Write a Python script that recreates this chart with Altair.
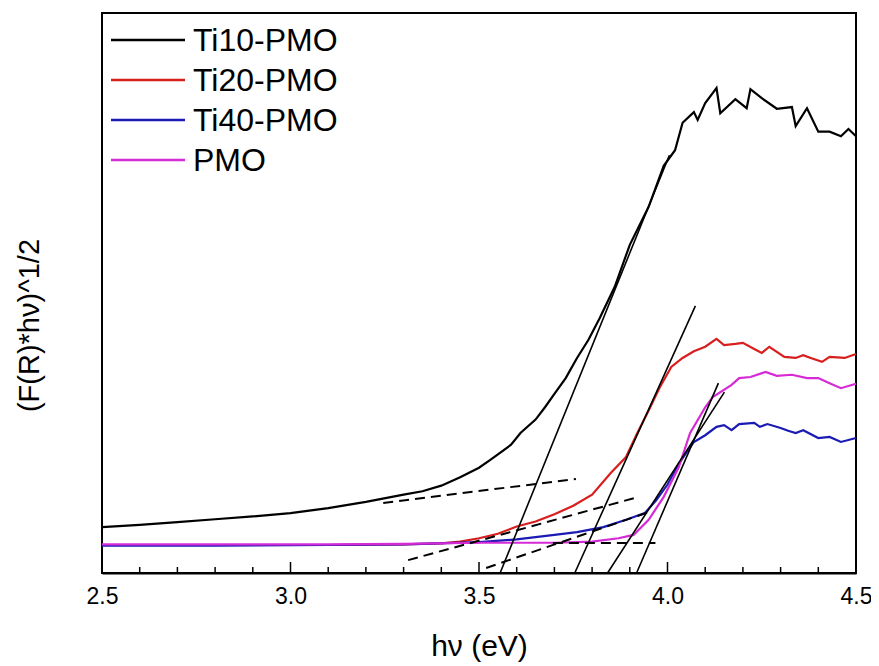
import altair as alt
import pandas as pd

# ---- series data ----
ti10_x = [2.50, 2.60, 2.70, 2.80, 2.90, 3.00, 3.10, 3.20, 3.30, 3.35, 3.40, 3.45, 3.50, 3.53,
          3.585, 3.61, 3.65, 3.675, 3.70, 3.73, 3.76, 3.79, 3.82, 3.86, 3.90, 3.95, 3.99, 4.02,
          4.04, 4.07, 4.08, 4.10, 4.13, 4.14, 4.18, 4.21, 4.22, 4.25, 4.29, 4.33, 4.34, 4.37,
          4.40, 4.43, 4.46, 4.48, 4.50]
ti10_y = [8.2, 8.6, 9.1, 9.6, 10.1, 10.7, 11.6, 12.7, 14.0, 14.6, 15.6, 17.1, 18.8, 20.2,
          22.9, 25.0, 27.4, 29.6, 32.0, 34.8, 38.4, 41.6, 45.5, 51.1, 58.6, 65.4, 72.7, 75.5,
          80.4, 82.3, 80.9, 83.9, 86.6, 82.1, 84.6, 83.0, 86.4, 84.8, 82.9, 83.2, 79.8, 83.0,
          78.8, 78.8, 78.0, 79.3, 78.0]

ti20_x = [2.50, 2.70, 2.90, 3.10, 3.30, 3.40, 3.45, 3.50, 3.55, 3.60, 3.65, 3.70, 3.75, 3.80,
          3.85, 3.89, 3.92, 3.95, 3.98, 4.01, 4.04, 4.07, 4.10, 4.13, 4.15, 4.18, 4.20, 4.23,
          4.25, 4.27, 4.31, 4.34, 4.36, 4.38, 4.41, 4.43, 4.47, 4.50]
ti20_y = [5.0, 5.0, 5.0, 5.0, 5.1, 5.3, 5.6, 6.2, 7.0, 8.3, 9.2, 10.5, 12.0, 14.0,
          17.9, 20.7, 25.0, 29.0, 33.2, 36.8, 38.4, 39.6, 40.4, 41.8, 40.7, 40.9, 41.1, 40.0,
          39.3, 40.4, 38.6, 38.4, 38.9, 38.4, 37.7, 38.6, 38.4, 39.1]

ti40_x = [2.50, 2.80, 3.10, 3.30, 3.50, 3.60, 3.70, 3.76, 3.83, 3.89, 3.94, 3.97, 4.00, 4.03,
          4.05, 4.07, 4.10, 4.13, 4.15, 4.17, 4.19, 4.23, 4.245, 4.265, 4.30, 4.32, 4.34, 4.36,
          4.40, 4.43, 4.46, 4.50]
ti40_y = [4.9, 4.9, 5.0, 5.1, 5.5, 6.0, 6.8, 7.3, 8.2, 9.5, 10.7, 13.0, 15.8, 19.5,
          21.5, 23.4, 24.6, 26.1, 26.4, 25.5, 26.6, 26.8, 26.1, 26.6, 25.9, 25.4, 25.0, 25.5,
          24.1, 24.3, 23.4, 24.1]

pmo_x = [2.50, 2.80, 3.10, 3.30, 3.50, 3.70, 3.80, 3.87, 3.91, 3.95, 3.99, 4.03, 4.06, 4.10,
         4.12, 4.17, 4.19, 4.22, 4.26, 4.29, 4.33, 4.37, 4.40, 4.43, 4.46, 4.50]
pmo_y = [5.1, 5.1, 5.1, 5.2, 5.4, 5.4, 5.6, 6.2, 6.8, 9.5, 13.6, 18.9, 25.0, 29.6,
         31.4, 33.6, 34.8, 35.0, 35.9, 35.2, 35.4, 34.8, 34.8, 33.9, 33.0, 33.8]

series_names = ["Ti10-PMO", "Ti20-PMO", "Ti40-PMO", "PMO"]
series_colors = ["#000000", "#d91e1e", "#1a1ab4", "#d62ad6"]

# tangent (solid) and baseline (dashed) fit lines: start/end points
tan_id = ["t10", "t10", "t20", "t20", "t40", "t40", "tp", "tp"]
tan_x = [3.556, 4.005, 3.754, 4.074, 3.841, 4.151, 3.918, 4.135]
tan_y = [0.0, 74.6, 0.0, 47.7, 0.0, 32.3, 0.0, 33.9]

base_id = ["b10", "b10", "b20", "b20", "b40", "b40", "bp", "bp"]
base_x = [3.246, 3.757, 3.312, 3.913, 3.519, 3.960, 3.696, 3.968]
base_y = [12.5, 16.8, 2.3, 13.4, 0.9, 11.1, 5.36, 5.36]

major_ticks = [2.5, 3.0, 3.5, 4.0, 4.5]
minor_ticks = [2.6, 2.7, 2.8, 2.9, 3.1, 3.2, 3.3, 3.4, 3.6, 3.7, 3.8, 3.9, 4.1, 4.2, 4.3, 4.4]

# ---- build tables ----
frames = []
for name, xs, ys in zip(series_names, [ti10_x, ti20_x, ti40_x, pmo_x],
                        [ti10_y, ti20_y, ti40_y, pmo_y]):
    frames.append(pd.DataFrame({"x": xs, "y": ys, "series": name, "order": range(len(xs))}))
curves = pd.concat(frames, ignore_index=True)
tangents = pd.DataFrame({"x": tan_x, "y": tan_y, "id": tan_id})
baselines = pd.DataFrame({"x": base_x, "y": base_y, "id": base_id})
majors = pd.DataFrame({"x": major_ticks})
minors = pd.DataFrame({"x": minor_ticks})
legend_df = pd.DataFrame({"series": series_names})

W, H = 754, 560
FONT = "Liberation Sans"

xscale = alt.Scale(domain=[2.5, 4.5], nice=False, zero=False)
yscale = alt.Scale(domain=[0, 100], nice=False, zero=False)
cscale = alt.Scale(domain=series_names, range=series_colors)

x_axis = alt.Axis(values=major_ticks, format=".1f", ticks=False, grid=False,
                  labelFont=FONT, labelFontSize=23, labelColor="black", labelPadding=12,
                  labelFlush=False, labelOverlap=False,
                  domainColor="black", domainWidth=2,
                  title="hν (eV)", titleFont=FONT, titleFontSize=30, titleFontWeight="normal",
                  titleColor="black", titleBaseline="alphabetic", titleY=82)
y_axis = alt.Axis(labels=False, ticks=False, grid=False, domain=False,
                  title="(F(R)*hν)^1/2", titleFont=FONT, titleFontSize=29,
                  titleFontWeight="normal", titleColor="black", titleAngle=-90,
                  titleBaseline="alphabetic", titleAlign="center", titleX=-64, titleY=312)

lines = alt.Chart(curves).mark_line(strokeWidth=2.2).encode(
    x=alt.X("x:Q", scale=xscale, axis=x_axis),
    y=alt.Y("y:Q", scale=yscale, axis=y_axis),
    color=alt.Color("series:N", scale=cscale, legend=None),
    order="order:Q",
)

tan_layer = alt.Chart(tangents).mark_line(color="black", strokeWidth=1.6).encode(
    x="x:Q", y="y:Q", detail="id:N")
base_layer = alt.Chart(baselines).mark_line(color="black", strokeWidth=2,
                                            strokeDash=[10, 6]).encode(
    x="x:Q", y="y:Q", detail="id:N")

major_layer = alt.Chart(majors).mark_rule(color="black", strokeWidth=1.5).encode(
    x="x:Q", y=alt.value(H), y2=alt.value(H - 11))
minor_layer = alt.Chart(minors).mark_rule(color="black", strokeWidth=1.5).encode(
    x="x:Q", y=alt.value(H), y2=alt.value(H - 6))

data_layers = alt.layer(lines, tan_layer, base_layer, major_layer, minor_layer)

# manual legend (inside the plot, top-left)
leg_y = alt.Y("series:N",
              scale=alt.Scale(type="point", domain=series_names, range=[27, 147], padding=0),
              axis=None)
leg_lines = alt.Chart(legend_df).mark_rule(strokeWidth=2.5).encode(
    x=alt.value(9), x2=alt.value(83), y=leg_y,
    color=alt.Color("series:N", scale=cscale, legend=None))
leg_text = alt.Chart(legend_df).mark_text(align="left", baseline="alphabetic", dy=11,
                                          font=FONT, fontSize=32, color="black").encode(
    x=alt.value(91), y=leg_y, text="series:N")
legend_layer = alt.layer(leg_lines, leg_text)

chart = alt.layer(data_layers, legend_layer).resolve_scale(y="independent").properties(
    width=W, height=H,
    autosize=alt.AutoSizeParams(type="none"),
    padding={"left": 94, "top": 5, "right": 15, "bottom": 89},
    background="white",
).configure_view(stroke="black", strokeWidth=2)

chart.save("out.html", embed_options={"renderer": "svg", "actions": False})
